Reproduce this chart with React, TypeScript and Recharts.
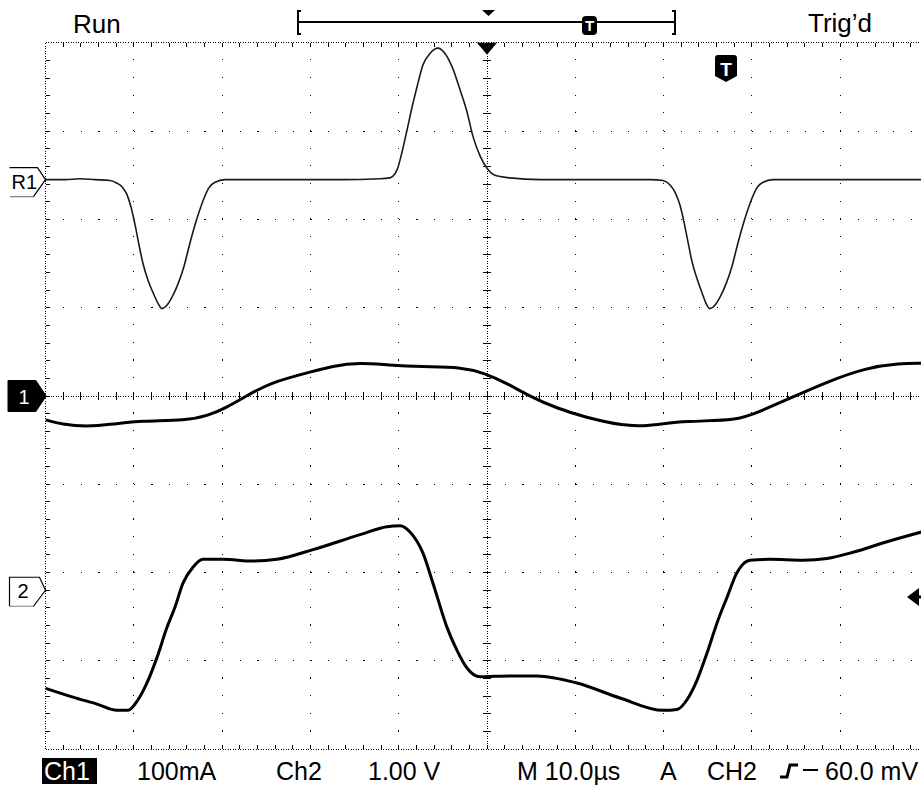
import React from 'react';
import { LineChart, Line, XAxis, YAxis, ReferenceLine, ReferenceDot } from 'recharts';

const FONT = '"Liberation Sans", Arial, Helvetica, sans-serif';
const INK = '#000';

// graticule: 10 x 8 divisions, 10 µs/div; vertical values are screen divisions from centre
const DIV_PX = 88.3;
const US_PER_DIV = 10;
const X_MAX = 100;
const Y_MAX = 4;

// reference waveform R1
const R1_T = [0, 2.2, 3.9, 5.6, 7.3, 8.1, 8.66, 9.23, 9.68, 10.14, 10.59, 11.04, 11.61, 12.18, 12.74, 13.19, 13.76, 14.33, 15.01, 15.69, 16.25, 16.82, 17.38, 17.95, 18.52, 19.2, 20.33, 24.3, 28.8, 33.4, 37.9, 39.0, 39.81, 40.37, 40.94, 41.51, 42.07, 42.75, 43.54, 44.45, 45.24, 46.04, 46.94, 47.73, 48.41, 49.21, 50.0, 50.91, 52.6, 56.0, 62.8, 68.5, 69.94, 70.73, 71.29, 71.86, 72.31, 72.77, 73.22, 73.78, 74.35, 74.8, 75.25, 75.82, 76.39, 77.07, 77.75, 78.31, 78.88, 79.44, 80.01, 80.58, 81.26, 82.39, 87.7, 100];
const R1_V = [2.45, 2.45, 2.46, 2.45, 2.44, 2.41, 2.37, 2.28, 2.14, 1.94, 1.71, 1.5, 1.31, 1.17, 1.05, 0.99, 1.03, 1.12, 1.27, 1.47, 1.69, 1.9, 2.08, 2.24, 2.36, 2.42, 2.45, 2.45, 2.45, 2.45, 2.46, 2.47, 2.56, 2.76, 3.01, 3.27, 3.5, 3.75, 3.88, 3.94, 3.88, 3.73, 3.47, 3.22, 2.94, 2.72, 2.58, 2.5, 2.47, 2.45, 2.45, 2.45, 2.44, 2.39, 2.31, 2.16, 1.97, 1.74, 1.52, 1.33, 1.17, 1.05, 0.99, 1.03, 1.12, 1.27, 1.47, 1.69, 1.9, 2.08, 2.24, 2.36, 2.42, 2.45, 2.45, 2.45];

// channel 1 (100 mA/div)
const CH1_T = [0, 1.87, 4.59, 7.64, 10.82, 15.91, 18.46, 20.33, 22.93, 25.42, 29.95, 32.45, 35.62, 38.79, 42.64, 47.06, 49.66, 52.15, 54.76, 57.93, 61.1, 65.52, 68.12, 72.54, 78.31, 80.8, 84.65, 88.51, 92.92, 96.77, 99.2];
const CH1_V = [-0.27, -0.32, -0.35, -0.32, -0.28, -0.28, -0.22, -0.14, 0.01, 0.15, 0.27, 0.34, 0.38, 0.35, 0.33, 0.33, 0.26, 0.15, 0, -0.14, -0.24, -0.34, -0.34, -0.28, -0.28, -0.18, -0.01, 0.16, 0.32, 0.37, 0.37];

// channel 2 (1.00 V/div)
const CH2_T = [0, 3.11, 5.83, 8.1, 9.34, 10.48, 11.49, 12.63, 13.76, 14.67, 15.57, 16.7, 17.84, 20.1, 23.5, 26.22, 30.29, 35.62, 38.67, 40.15, 41.28, 42.75, 43.88, 45.47, 46.6, 47.73, 49.21, 52.61, 55.66, 60.19, 65.06, 69.94, 71.52, 72.65, 73.78, 74.92, 76.05, 77.18, 78.31, 79.78, 82.05, 85.79, 88.51, 91.45, 95.3, 99.2];
const CH2_V = [-3.31, -3.41, -3.49, -3.56, -3.56, -3.44, -3.25, -2.96, -2.62, -2.39, -2.12, -1.94, -1.85, -1.85, -1.87, -1.85, -1.74, -1.57, -1.48, -1.47, -1.54, -1.78, -2.12, -2.62, -2.88, -3.08, -3.18, -3.17, -3.17, -3.25, -3.42, -3.56, -3.55, -3.44, -3.22, -2.91, -2.57, -2.28, -2.0, -1.86, -1.85, -1.86, -1.84, -1.77, -1.65, -1.54];

// channel ground / reference markers (div)
const R1_LEVEL = 2.45;
const CH1_LEVEL = 0;
const CH2_LEVEL = -2.2;
const TRIG_POS = 50;

const zip = (ts: number[], vs: number[]) => ts.map((t, i) => ({ t, v: vs[i] }));
const r1Data = zip(R1_T, R1_V);
const ch1Data = zip(CH1_T, CH1_V);
const ch2Data = zip(CH2_T, CH2_V);

const MAJOR_X = Array.from({ length: 11 }, (_, i) => i * US_PER_DIV);
const MAJOR_Y = Array.from({ length: 9 }, (_, i) => i - Y_MAX);
const MINOR_X = Array.from({ length: 49 }, (_, i) => (i + 1) * 2);
const MINOR_Y = Array.from({ length: 39 }, (_, i) => +((i - 19) * 0.2).toFixed(2));
const TX = (4 / DIV_PX) * US_PER_DIV;
const TY = 4 / DIV_PX;

const PLOT_W = DIV_PX * 10;
const PLOT_H = DIV_PX * 8;
const CHART_W = 940;
const CHART_H = 785;
const M_LEFT = 45.5;
const M_TOP = 42.8;

function R1Marker({ cx, cy }: any) {
  return (
    <g>
      <path d={`M${cx - 36} ${cy - 12} L${cx - 8} ${cy - 12} L${cx} ${cy} L${cx - 12} ${cy + 17}`} fill="none" stroke={INK} strokeWidth={1.2} />
      <line x1={cx - 12} y1={cy + 17} x2={cx - 36} y2={cy + 17} stroke={INK} strokeWidth={1.2} strokeDasharray="1 1" />
      <text x={cx - 34} y={cy + 9} fontSize={20} fontFamily={FONT} fill={INK}>R1</text>
    </g>
  );
}

function Ch1Marker({ cx, cy }: any) {
  return (
    <g>
      <path d={`M${cx - 37} ${cy - 15} L${cx - 10} ${cy - 15} L${cx} ${cy} L${cx - 10} ${cy + 15} L${cx - 37} ${cy + 15} Z`} fill={INK} stroke={INK} strokeLinejoin="round" strokeWidth={2} />
      <text x={cx - 27} y={cy + 8} fontSize={20} fontFamily={FONT} fill="#fff">1</text>
    </g>
  );
}

function Ch2Marker({ cx, cy }: any) {
  return (
    <g>
      <path d={`M${cx - 12} ${cy + 16} L${cx} ${cy} L${cx - 6} ${cy - 13} L${cx - 36} ${cy - 13} L${cx - 36} ${cy + 16}`} fill="none" stroke={INK} strokeWidth={1.2} />
      <line x1={cx - 12} y1={cy + 16} x2={cx - 36} y2={cy + 16} stroke={INK} strokeWidth={1.2} strokeDasharray="1 1" />
      <text x={cx - 28} y={cy + 8} fontSize={20} fontFamily={FONT} fill={INK}>2</text>
    </g>
  );
}

function TrigPos({ cx, cy }: any) {
  return <path d={`M${cx - 10} ${cy} L${cx + 10} ${cy} L${cx} ${cy + 12} Z`} fill={INK} />;
}

function Overlay() {
  const txt = { fontFamily: FONT, fontSize: 25, fill: INK } as const;
  return (
    <svg width={921} height={785} style={{ position: 'absolute', left: 0, top: 0, pointerEvents: 'none' }}>
      <text x={73} y={33} {...txt} fontSize={26}>Run</text>
      <text x={808} y={32} {...txt} fontSize={26}>Trig’d</text>

      {/* record length bar */}
      <line x1={297} y1={22} x2={676} y2={22} stroke={INK} strokeWidth={2} />
      <path d="M301 11 L298 11 L298 34 L301 34" fill="none" stroke={INK} strokeWidth={2} />
      <path d="M672 11 L675 11 L675 34 L672 34" fill="none" stroke={INK} strokeWidth={2} />
      <path d="M482 10 L495 10 L488.5 16 Z" fill={INK} />
      <rect x={582} y={16} width={15} height={19} rx={4} fill={INK} />
      <text x={589.5} y={31} textAnchor="middle" fontFamily={FONT} fontSize={15} fontWeight={700} fill="#fff">T</text>

      {/* trigger time badge */}
      <path d="M718 55 L734 55 Q737 55 737 58 L737 76 L726 82 L715 76 L715 58 Q715 55 718 55 Z" fill={INK} />
      <text x={726} y={76} textAnchor="middle" fontFamily={FONT} fontSize={19} fontWeight={700} fill="#fff">T</text>

      {/* trigger level arrow */}
      <path d="M907 597 L919 588 L919 606 Z" fill={INK} />
      <line x1={917} y1={597} x2={921} y2={597} stroke={INK} strokeWidth={3} />

      {/* readout */}
      <rect x={42} y={758} width={55} height={26} fill={INK} />
      <text x={44} y={780} {...txt} fill="#fff">Ch1</text>
      <text x={137} y={780} {...txt}>100mA</text>
      <text x={276} y={780} {...txt}>Ch2</text>
      <text x={368} y={780} {...txt}>1.00 V</text>
      <text x={517} y={780} {...txt}>M 10.0µs</text>
      <text x={660} y={780} {...txt}>A</text>
      <text x={707} y={780} {...txt}>CH2</text>
      <path d="M780 777 L787 777 L790 765 L798 765" fill="none" stroke={INK} strokeWidth={3} />
      <line x1={803} y1={770} x2={818} y2={770} stroke={INK} strokeWidth={2} />
      <text x={825} y={780} {...txt}>60.0 mV</text>
    </svg>
  );
}

export default function App() {
  const dense = new Set([0, TRIG_POS]);
  return (
    <div style={{ position: 'absolute', left: 0, top: 0, width: 921, height: 785, overflow: 'hidden', background: '#fff' }}>
      <LineChart width={CHART_W} height={CHART_H} margin={{ top: M_TOP, left: M_LEFT, right: CHART_W - M_LEFT - PLOT_W, bottom: CHART_H - M_TOP - PLOT_H }}>
        <XAxis type="number" dataKey="t" domain={[0, X_MAX]} hide allowDataOverflow />
        <YAxis type="number" dataKey="v" domain={[-Y_MAX, Y_MAX]} hide allowDataOverflow />

        {MAJOR_X.map((t) => (
          <ReferenceLine key={`gx${t}`} x={t} stroke={INK} strokeWidth={1} shapeRendering="crispEdges" strokeDasharray={dense.has(t) ? '1 1.5' : '1.2 16.46'} />
        ))}
        {MAJOR_Y.map((v) => (
          <ReferenceLine key={`gy${v}`} y={v} stroke={INK} strokeWidth={1} shapeRendering="crispEdges" strokeDasharray={Math.abs(v) === Y_MAX || v === 0 ? '1 1.5' : '1.2 16.46'} />
        ))}
        {MINOR_X.map((t) => (
          <ReferenceLine key={`tt${t}`} segment={[{ x: t, y: Y_MAX }, { x: t, y: Y_MAX - TY }]} stroke={INK} shapeRendering="crispEdges" />
        ))}
        {MINOR_X.map((t) => (
          <ReferenceLine key={`tb${t}`} segment={[{ x: t, y: -Y_MAX }, { x: t, y: -Y_MAX + TY }]} stroke={INK} shapeRendering="crispEdges" />
        ))}
        {MINOR_X.map((t) => (
          <ReferenceLine key={`tc${t}`} segment={[{ x: t, y: -TY }, { x: t, y: TY }]} stroke={INK} shapeRendering="crispEdges" />
        ))}
        {MINOR_Y.map((v) => (
          <ReferenceLine key={`tl${v}`} segment={[{ x: 0, y: v }, { x: TX, y: v }]} stroke={INK} shapeRendering="crispEdges" />
        ))}
        {MINOR_Y.map((v) => (
          <ReferenceLine key={`tv${v}`} segment={[{ x: TRIG_POS - TX, y: v }, { x: TRIG_POS + TX, y: v }]} stroke={INK} shapeRendering="crispEdges" />
        ))}

        <Line data={r1Data} dataKey="v" type="monotone" stroke="#1a1a1a" strokeWidth={1.6} dot={false} isAnimationActive={false} />
        <Line data={ch1Data} dataKey="v" type="basis" stroke={INK} strokeWidth={3} dot={false} isAnimationActive={false} />
        <Line data={ch2Data} dataKey="v" type="monotone" stroke={INK} strokeWidth={3} dot={false} isAnimationActive={false} />

        <ReferenceDot x={0} y={R1_LEVEL} r={0} ifOverflow="visible" shape={(p: any) => <R1Marker cx={p.cx} cy={p.cy} />} />
        <ReferenceDot x={0} y={CH1_LEVEL} r={0} ifOverflow="visible" shape={(p: any) => <Ch1Marker cx={p.cx} cy={p.cy} />} />
        <ReferenceDot x={0} y={CH2_LEVEL} r={0} ifOverflow="visible" shape={(p: any) => <Ch2Marker cx={p.cx} cy={p.cy} />} />
        <ReferenceDot x={TRIG_POS} y={Y_MAX} r={0} ifOverflow="visible" shape={(p: any) => <TrigPos cx={p.cx} cy={p.cy} />} />
      </LineChart>
      <Overlay />
    </div>
  );
}
